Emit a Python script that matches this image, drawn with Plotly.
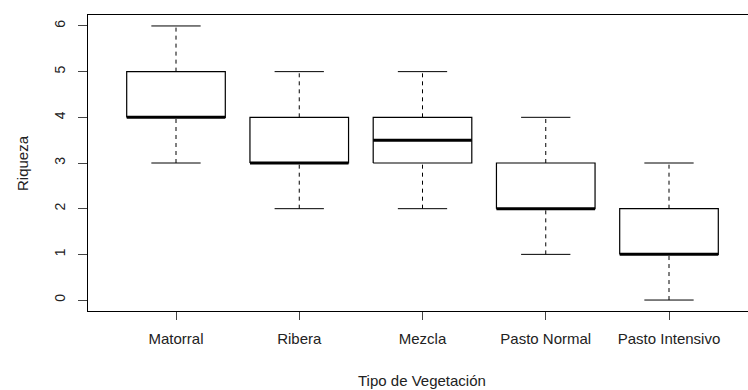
import plotly.graph_objects as go

categories = ["Matorral", "Ribera", "Mezcla", "Pasto Normal", "Pasto Intensivo"]
lower_whisker = [3, 2, 2, 1, 0]
q1 = [4, 3, 3, 2, 1]
median = [4, 3, 3.5, 2, 1]
q3 = [5, 4, 4, 3, 2]
upper_whisker = [6, 5, 5, 4, 3]
y_ticks = [0, 1, 2, 3, 4, 5, 6]

half_box = 0.4
half_cap = 0.2
font = "Liberation Sans, Arial, sans-serif"

fig = go.Figure()
for i, name in enumerate(categories):
    x = i + 1
    for a, b in [(lower_whisker[i], q1[i]), (q3[i], upper_whisker[i])]:
        fig.add_trace(go.Scatter(x=[x, x], y=[a, b], mode="lines",
                                 line=dict(color="black", width=1, dash="4px,4px"),
                                 hoverinfo="skip", showlegend=False))
    for v in [lower_whisker[i], upper_whisker[i]]:
        fig.add_trace(go.Scatter(x=[x - half_cap, x + half_cap], y=[v, v], mode="lines",
                                 line=dict(color="black", width=1),
                                 hoverinfo="skip", showlegend=False))
    fig.add_trace(go.Scatter(
        x=[x - half_box, x + half_box, x + half_box, x - half_box, x - half_box],
        y=[q1[i], q1[i], q3[i], q3[i], q1[i]], mode="lines",
        line=dict(color="black", width=1.2), hoverinfo="skip", showlegend=False))
    fig.add_trace(go.Scatter(x=[x - half_box, x + half_box], y=[median[i], median[i]],
                             mode="lines", line=dict(color="black", width=3),
                             hoverinfo="skip", showlegend=False))

fig.update_layout(
    width=748, height=390,
    margin=dict(l=88, r=0, t=15, b=79),
    plot_bgcolor="white", paper_bgcolor="white",
    font=dict(family=font, size=15, color="#222"),
    xaxis=dict(range=[0.286, 5.641], tickmode="array",
               tickvals=list(range(1, len(categories) + 1)), ticktext=categories,
               showgrid=False, zeroline=False, showline=True, linecolor="black",
               linewidth=1.2, mirror=True, ticks="outside", ticklen=8,
               tickcolor="#444", tickwidth=1.2, ticklabelstandoff=6,
               tickfont=dict(size=15, color="#222")),
    yaxis=dict(range=[-0.24, 6.24], tickmode="array", tickvals=y_ticks,
               ticktext=[str(v) for v in y_ticks], tickangle=-90,
               showgrid=False, zeroline=False, showline=True, linecolor="black",
               linewidth=1.2, ticks="outside", ticklen=9, tickcolor="#444",
               tickwidth=1.2, ticklabelstandoff=7,
               tickfont=dict(size=14, color="#222")),
    annotations=[
        dict(text="Tipo de Vegetación", xref="paper", yref="paper", x=0.506, y=-0.235,
             xanchor="center", yanchor="middle", showarrow=False,
             font=dict(size=15, color="#222")),
        dict(text="Riqueza", xref="paper", yref="paper", x=-0.1, y=0.5,
             xanchor="center", yanchor="middle", showarrow=False, textangle=-90,
             font=dict(size=15, color="#222")),
    ],
)

fig.write_html("out.html", config={"displayModeBar": False},
               post_script="document.body.style.margin='0';")
